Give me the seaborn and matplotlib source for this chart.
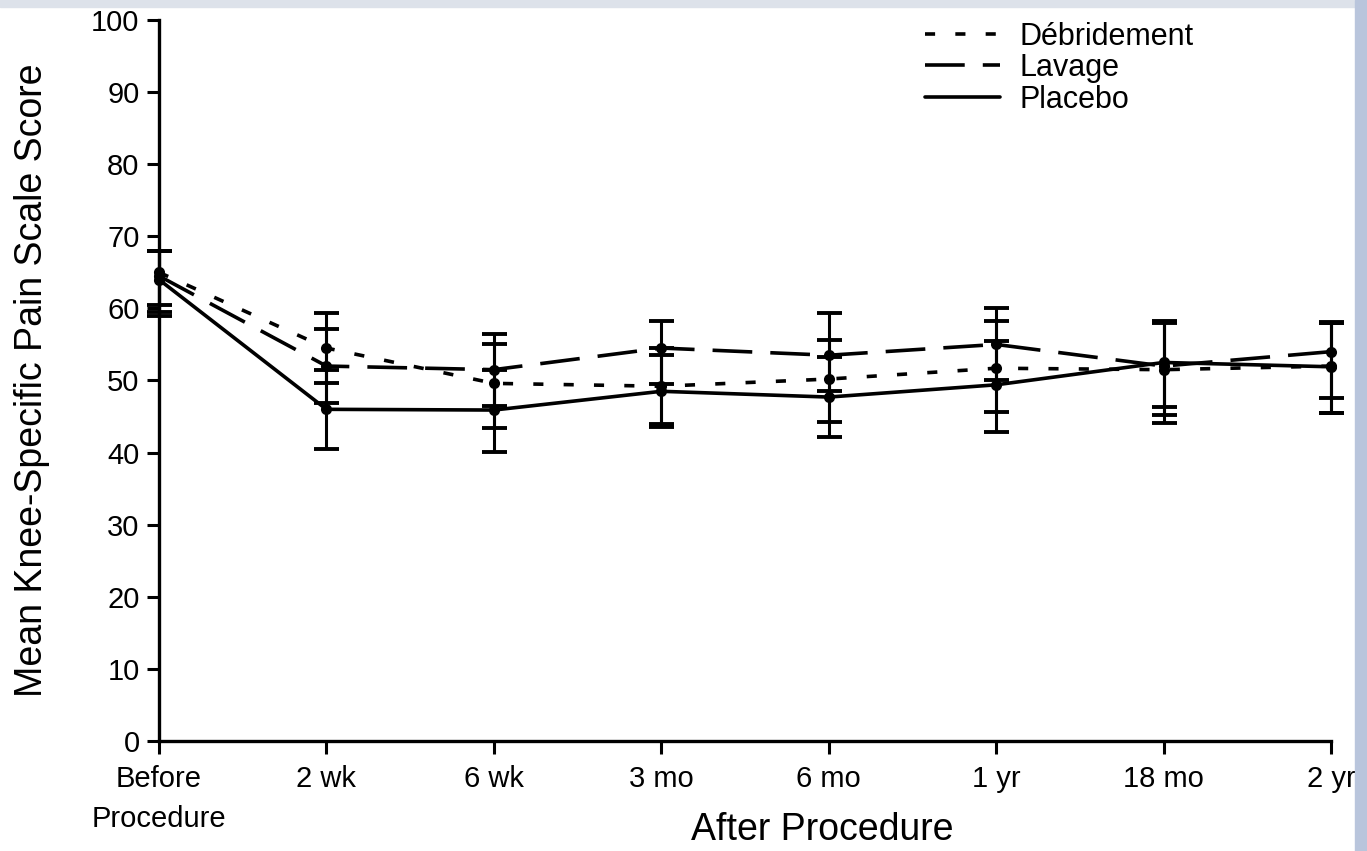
import matplotlib
matplotlib.use('Agg')
import matplotlib.pyplot as plt
from matplotlib.lines import Line2D
from matplotlib.patches import Rectangle
import seaborn as sns
import pandas as pd
import numpy as np

# Time points and group scores
timepoints = ['Before\nProcedure', '2 wk', '6 wk', '3 mo', '6 mo', '1 yr', '18 mo', '2 yr']
groups = ['Débridement', 'Lavage', 'Placebo']

debridement = [65.0, 54.5, 49.6, 49.2, 50.2, 51.7, 51.5, 52.0]
debridement_lo = [60.5, 49.6, 43.4, 44.0, 44.2, 45.6, 44.1, 45.5]
debridement_hi = [68.0, 59.4, 55.0, 54.5, 55.6, 58.3, 58.0, 58.0]

lavage = [64.5, 52.0, 51.5, 54.5, 53.5, 55.0, 52.0, 54.0]
lavage_lo = [59.5, 46.9, 46.5, 49.5, 48.5, 50.0, 45.2, 47.6]
lavage_hi = [68.0, 57.1, 56.4, 58.3, 59.3, 60.0, 58.1, 58.1]

placebo = [64.0, 46.0, 45.9, 48.5, 47.7, 49.4, 52.5, 51.9]
placebo_lo = [59.0, 40.5, 40.1, 43.5, 42.2, 42.9, 46.3, 45.5]
placebo_hi = [68.0, 51.5, 51.5, 53.5, 53.2, 55.5, 58.3, 58.0]

means = {'Débridement': debridement, 'Lavage': lavage, 'Placebo': placebo}
lows = {'Débridement': debridement_lo, 'Lavage': lavage_lo, 'Placebo': placebo_lo}
highs = {'Débridement': debridement_hi, 'Lavage': lavage_hi, 'Placebo': placebo_hi}

rows = []
for g in groups:
    for i, v in enumerate(means[g]):
        rows.append({'x': i, 'score': v, 'group': g})
df = pd.DataFrame(rows)

sns.set_style('white')
plt.rcParams['font.family'] = ['Liberation Sans', 'DejaVu Sans']
plt.rcParams['text.color'] = 'black'
plt.rcParams['axes.labelcolor'] = 'black'
plt.rcParams['xtick.color'] = 'black'
plt.rcParams['ytick.color'] = 'black'

fig = plt.figure(figsize=(13.67, 8.51), dpi=100)
ax = fig.add_axes([0.1163, 0.1293, 0.8574, 0.8472])

# screenshot edges (light band on top, bluish strip on the right)
fig.patches.append(Rectangle((0, 0.992), 1, 0.008, transform=fig.transFigure,
                             color='#dde2ea', zorder=0))
fig.patches.append(Rectangle((0.9915, 0), 0.0085, 1, transform=fig.transFigure,
                             color='#b9c5dc', zorder=0))

dash_styles = {'Débridement': (2.8, 5.6), 'Lavage': (11, 5), 'Placebo': ''}
sns.lineplot(data=df, x='x', y='score', hue='group', style='group',
             palette={g: 'black' for g in groups}, dashes=dash_styles,
             linewidth=2.6, marker='o', markersize=8, markeredgewidth=0,
             ax=ax, clip_on=False, legend=False)

# error bars
for g in groups:
    m = np.array(means[g])
    lo = m - np.array(lows[g])
    hi = np.array(highs[g]) - m
    ax.errorbar(np.arange(len(timepoints)), m, yerr=[lo, hi], fmt='none',
                ecolor='black', elinewidth=2.2, capsize=9, capthick=2.8, clip_on=False)

handles = [Line2D([], [], color='black', lw=2.6, dashes=(2.8, 5.6)),
           Line2D([], [], color='black', lw=2.6, dashes=(11, 5)),
           Line2D([], [], color='black', lw=2.6)]
ax.legend(handles, groups, loc='upper left', bbox_to_anchor=(0.630, 1.036),
          frameon=False, fontsize=22, handlelength=2.45, labelspacing=0.05,
          handletextpad=0.65)

ax.set_xlim(0, 7)
ax.set_ylim(0, 100)
ax.set_xticks(range(len(timepoints)))
ax.set_xticklabels(timepoints, fontsize=21, linespacing=1.55)
ax.set_yticks(range(0, 101, 10))
ax.tick_params(axis='both', direction='out', length=9, width=2.2, labelsize=21,
               left=True, bottom=True, pad=5)
ax.tick_params(axis='x', pad=8)
sns.despine(ax=ax)
for s in ['left', 'bottom']:
    ax.spines[s].set_linewidth(2.4)
    ax.spines[s].set_color('black')

ax.set_xlabel('')
ax.set_ylabel('Mean Knee-Specific Pain Scale Score', fontsize=27)
ax.yaxis.set_label_coords(-0.093, 0.5)
ax.text(3.96, -0.1234, 'After Procedure', transform=ax.get_xaxis_transform(),
        ha='center', va='center', fontsize=27)

fig.savefig('out.png', dpi=100, facecolor='white')
